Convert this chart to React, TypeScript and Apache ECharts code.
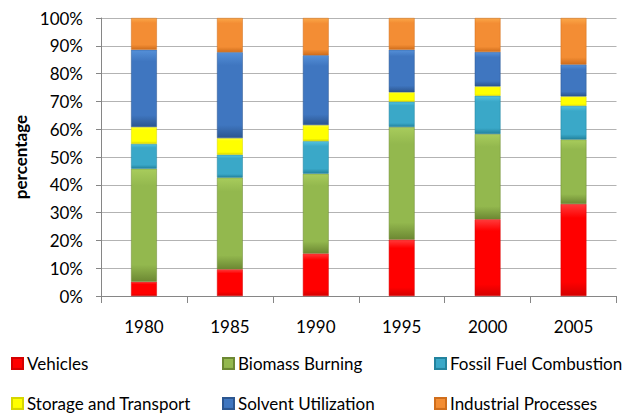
import React, { useEffect, useRef } from "react";
import * as echarts from "echarts";

const years = ["1980", "1985", "1990", "1995", "2000", "2005"];
const yTicks = [0, 10, 20, 30, 40, 50, 60, 70, 80, 90, 100];
const seriesNames = [
  "Vehicles",
  "Biomass Burning",
  "Fossil Fuel Combustion",
  "Storage and Transport",
  "Solvent Utilization",
  "Industrial Processes",
];
const vehicles = [5.1, 9.6, 15.3, 20.3, 27.6, 33.1];
const biomass = [40.7, 33.0, 28.7, 40.5, 30.7, 23.2];
const fossil = [8.9, 8.2, 11.7, 9.1, 13.7, 12.1];
const storage = [6.1, 6.0, 5.8, 3.4, 3.4, 3.4];
const solvent = [27.8, 30.9, 25.1, 15.3, 12.4, 11.5];
const industrial = [11.4, 12.3, 13.4, 11.4, 12.2, 16.7];

const seriesData = [vehicles, biomass, fossil, storage, solvent, industrial];
const colorStops: [string, string, string][] = [
  ["#ff3b3b", "#ff0000", "#d40000"],
  ["#a8cc5c", "#93b84e", "#6c8833"],
  ["#52c3e0", "#3aa8c8", "#23839e"],
  ["#ffff40", "#ffff00", "#d6d600"],
  ["#5590d8", "#3f76c0", "#2c5690"],
  ["#fba748", "#f38d34", "#d06e1c"],
];
const legendPos = [
  { left: 11, top: 355 },
  { left: 222, top: 355 },
  { left: 434, top: 355 },
  { left: 11, top: 395 },
  { left: 222, top: 395 },
  { left: 434, top: 395 },
];

export default function App() {
  const ref = useRef<HTMLDivElement>(null);
  useEffect(() => {
    if (!ref.current) return;
    const chart = echarts.init(ref.current, null, { renderer: "svg" });
    const font = "Lato, 'Open Sans', sans-serif";
    const series = seriesNames.map((name, i) => ({
      name,
      type: "bar",
      stack: "total",
      barWidth: "30%",
      data: seriesData[i],
      itemStyle: {
        color: new echarts.graphic.LinearGradient(0, 0, 0, 1, [
          { offset: 0, color: colorStops[i][0] },
          { offset: 0.15, color: colorStops[i][1] },
          { offset: 0.85, color: colorStops[i][1] },
          { offset: 1, color: colorStops[i][2] },
        ]),
        borderColor: colorStops[i][2],
        borderWidth: 0.5,
      },
    }));
    chart.setOption({
      animation: false,
      textStyle: { fontFamily: font },
      grid: { left: 101, right: 10.5, top: 18, bottom: 119 },
      legend: seriesNames.map((n, i) => ({
        data: [n],
        left: legendPos[i].left,
        top: legendPos[i].top,
        padding: 0,
        itemWidth: 11,
        itemHeight: 11,
        itemGap: 5,
        icon: "rect",
        textStyle: { fontFamily: font, fontSize: 17, color: "#000", padding: [0, 0, 0, -1] },
        selectedMode: false,
      })),
      xAxis: {
        type: "category",
        data: years,
        boundaryGap: true,
        axisLine: { lineStyle: { color: "#868686", width: 1 } },
        axisTick: { show: true, length: 7, alignWithLabel: false, lineStyle: { color: "#868686" } },
        axisLabel: { fontSize: 17, color: "#000", margin: 22, fontFamily: font },
      },
      yAxis: {
        type: "value",
        min: yTicks[0],
        max: yTicks[yTicks.length - 1],
        interval: 10,
        name: "percentage",
        nameLocation: "middle",
        nameGap: 71,
        nameTextStyle: { fontSize: 17, fontWeight: "bold", color: "#000", fontFamily: font },
        axisLine: { show: true, lineStyle: { color: "#868686", width: 1 } },
        axisTick: { show: true, length: 5, lineStyle: { color: "#868686" } },
        axisLabel: { formatter: "{value}%", fontSize: 17, color: "#000", margin: 18, fontFamily: font },
        splitLine: { show: true, lineStyle: { color: "#b3b3b3", width: 1 } },
      },
      series,
    });
    return () => chart.dispose();
  }, []);
  return (
    <div
      ref={ref}
      style={{ position: "fixed", left: 0, top: 0, width: 627, height: 415, background: "#fff" }}
    />
  );
}
